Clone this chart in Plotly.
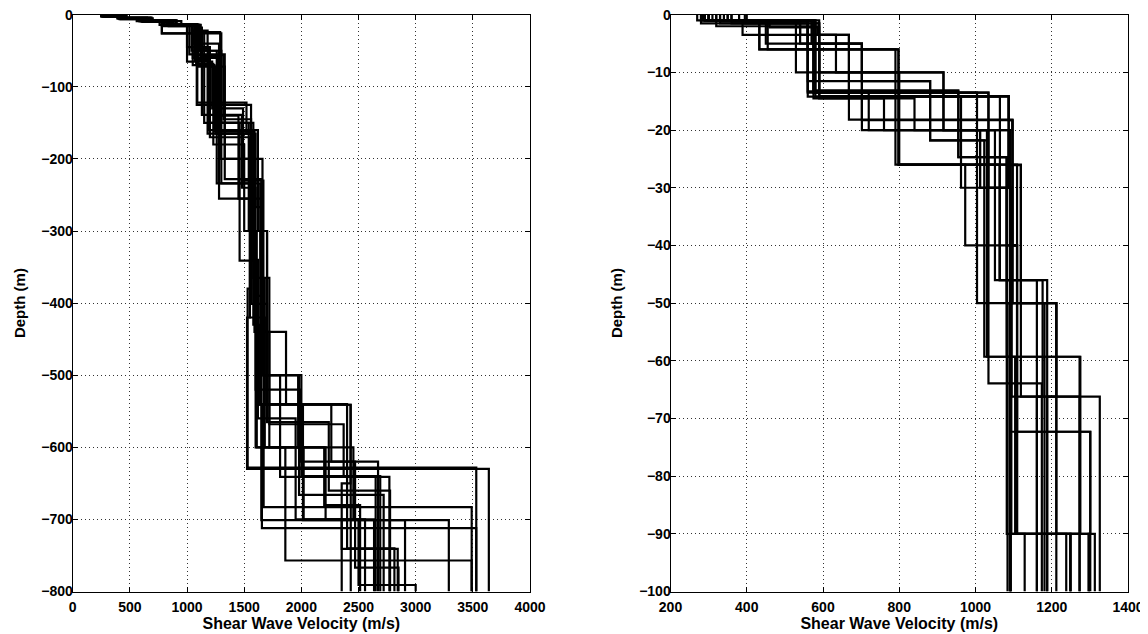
import plotly.graph_objects as go

# ---------------- data: left panel (full depth, 0-800 m) ----------------
# each profile: layer velocities (m/s) and layer bottom depths (m)
left_vs = [
    [260, 420, 600, 800, 1070, 1090, 1520, 1560, 1530, 3530],
    [280, 450, 650, 850, 1090, 1130, 1480, 1550, 1525, 3640],
    [250, 400, 580, 780, 1050, 1180, 1580, 1650, 1670, 3490],
    [270, 440, 640, 900, 1100, 1290, 1660, 1680, 1655, 3530],
    [300, 470, 700, 950, 1080, 1300, 1580, 1610, 1650, 3290],
    [260, 410, 610, 790, 1040, 1150, 1460, 1600, 1860, 3490],
    [290, 430, 640, 870, 1000, 1200, 1540, 1610, 2430, 2353, 2843],
    [270, 420, 620, 820, 1050, 1270, 1580, 1720, 2370, 2690],
    [250, 390, 560, 760, 1100, 1300, 1450, 1650, 1720, 2455, 2636],
    [300, 460, 680, 900, 1080, 1230, 1500, 1660, 1980, 2720],
    [260, 420, 620, 840, 1020, 1330, 1560, 1700, 2014, 2907],
    [280, 440, 660, 880, 1100, 1250, 1600, 1650, 1814, 2770],
    [270, 430, 630, 780, 1060, 1280, 1590, 1866, 2262, 2470, 2850],
    [250, 410, 600, 820, 1000, 1220, 1490, 1668, 1972, 2212, 2500, 3000],
    [290, 450, 660, 880, 1110, 1190, 1620, 1700, 2000, 2650],
    [260, 420, 610, 830, 1090, 1320, 1560, 1620, 1950, 2557],
    [280, 440, 650, 870, 1040, 1260, 1640, 2400, 2814],
    [300, 470, 690, 910, 1070, 1200, 1550, 1680, 2200, 2514],
    [270, 430, 640, 860, 1085, 1560, 1600, 1990, 2671],
    [260, 420, 620, 840, 1120, 1300, 1580, 1700, 2240, 2776],
    [290, 450, 660, 780, 1050, 1240, 1590, 1650, 2020, 2353],
    [250, 400, 590, 800, 1090, 1187, 1330, 1580, 1640, 2432],
]
left_depths = [
    [2, 5, 9, 14, 21, 122, 165, 380, 628, 800],
    [1.5, 4, 8, 13, 18, 139, 240, 420, 630, 800],
    [2, 5, 9, 15, 22, 165, 228, 500, 683, 800],
    [2, 5, 8, 14, 24, 200, 366, 540, 712, 800],
    [2, 5, 9, 15, 26, 234, 401, 600, 701, 800],
    [2, 6, 10, 16, 23, 150, 341, 600, 757, 800],
    [2, 5, 9, 14, 45, 150, 300, 541, 650, 741, 800],
    [2, 6, 10, 15, 60, 165, 365, 568, 640, 800],
    [2, 5, 9, 14, 50, 140, 255, 440, 600, 700, 800],
    [1.5, 4, 8, 14, 68, 180, 300, 500, 666, 800],
    [2, 5, 10, 16, 55, 200, 401, 540, 701, 800],
    [2, 5, 9, 15, 72, 165, 267, 500, 641, 800],
    [2, 5, 9, 26, 40, 255, 440, 540, 620, 767, 800],
    [2, 5, 9, 14, 65, 130, 230, 500, 600, 700, 791, 800],
    [2, 5, 9, 14, 47, 160, 300, 500, 640, 800],
    [2, 5, 9, 15, 56, 145, 340, 560, 700, 800],
    [2, 5, 9, 15, 50, 234, 540, 740, 800],
    [1.5, 4, 8, 14, 63, 170, 420, 600, 680, 800],
    [2, 5, 9, 15, 125, 240, 520, 620, 800],
    [2, 5, 9, 14, 58, 150, 300, 565, 660, 800],
    [2, 5, 9, 26, 70, 162, 390, 600, 700, 800],
    [2, 5, 9, 14, 47, 72, 228, 430, 541, 800],
]

# ---------------- data: right panel (top 100 m) ----------------
right_vs = [
    [290, 560, 1087, 1097, 1084],
    [320, 580, 1034, 1094, 1326],
    [350, 433, 790, 1119, 1212, 1188],
    [280, 540, 668, 1097, 1109, 1301],
    [300, 570, 702, 1091, 1082, 1313],
    [380, 590, 916, 1030, 1082, 1273],
    [290, 560, 881, 1023, 1275, 1249],
    [400, 575, 955, 1082, 1109, 1238],
    [340, 460, 590, 1087, 1092],
    [310, 389, 560, 1004, 1034, 1174],
    [285, 433, 798, 1063, 1176, 1161],
    [360, 529, 916, 1012, 1094, 1129],
    [300, 580, 962, 1004, 1212],
    [330, 560, 634, 800, 973, 1109, 1297],
    [270, 450, 702, 881, 1030, 1104, 1249],
    [395, 590, 1087, 1119, 1273],
    [300, 575, 1034, 1091, 1301, 1297],
    [350, 560, 798, 1109, 1092],
    [290, 540, 702, 1097, 1181],
    [320, 585, 668, 1064, 1161],
    [300, 560, 720, 1087, 1090],
    [330, 575, 760, 1012, 1094, 1092],
    [280, 455, 590, 840, 1051, 1188],
    [360, 590, 955, 1082, 1212, 1249],
]
right_depths = [
    [1, 14.2, 18.3, 50, 100],
    [1, 13.5, 30, 66.2, 100],
    [1, 6, 26, 50, 66.2, 100],
    [1.5, 3.5, 18.2, 40, 72.3, 100],
    [1, 5, 20, 30, 90, 100],
    [1, 10, 20, 24.7, 59.3, 100],
    [1, 11.5, 21.8, 59.3, 90, 100],
    [1, 13.1, 24.7, 40, 90, 100],
    [1, 2.2, 14.1, 30, 100],
    [1, 3.5, 13.5, 30, 63.9, 100],
    [1, 6, 26, 46, 66.2, 100],
    [1, 10, 20, 30, 90, 100],
    [1, 14.2, 30, 50, 100],
    [1.5, 3.5, 10, 26, 40, 90, 100],
    [1, 5, 11.5, 21.8, 59.3, 90, 100],
    [1.5, 14.1, 26.1, 66.2, 100],
    [1, 13.5, 30, 72.3, 90, 100],
    [1, 6, 26, 40, 100],
    [1, 5, 18.3, 50, 100],
    [2, 3.5, 14.2, 46, 100],
    [1, 13.3, 20, 26.1, 100],
    [1, 14.5, 20, 30, 66.2, 100],
    [1, 6, 14.5, 20, 46, 100],
    [1.5, 13.3, 24.7, 50, 90, 100],
]

left_xticks = [0, 500, 1000, 1500, 2000, 2500, 3000, 3500, 4000]
left_yticks = [-800, -700, -600, -500, -400, -300, -200, -100, 0]
right_xticks = [200, 400, 600, 800, 1000, 1200, 1400]
right_yticks = [-100, -90, -80, -70, -60, -50, -40, -30, -20, -10, 0]

x_title = "Shear Wave Velocity (m/s)"
y_title = "Depth (m)"

fig = go.Figure()


def add_profiles(vs_list, depth_list, xa, ya):
    for vs, ds in zip(vs_list, depth_list):
        x = list(vs) + [vs[-1]]
        y = [0] + [-d for d in ds]
        fig.add_trace(go.Scatter(
            x=x, y=y, mode="lines", line=dict(color="black", width=2.2, shape="vh"),
            xaxis=xa, yaxis=ya, showlegend=False, hoverinfo="skip"))


add_profiles(left_vs, left_depths, "x", "y")
add_profiles(right_vs, right_depths, "x2", "y2")

font_family = "Liberation Sans, Arial, Helvetica, sans-serif"
tickfont = dict(family=font_family, size=14, color="black", weight="bold")
xtitlefont = dict(family=font_family, size=16, color="black", weight="bold")
ytitlefont = dict(family=font_family, size=15, color="black", weight="bold")

axis_common = dict(
    showgrid=True, gridcolor="#333", griddash="1px,3px", gridwidth=1,
    showline=True, linecolor="black", linewidth=1, mirror="ticks",
    ticks="inside", ticklen=5, tickcolor="black",
    zeroline=False, automargin=False, tickfont=tickfont,
    ticklabeloverflow="allow",
)

# page body has an 8px margin: positions are shifted to compensate
W, H, OFF = 1148, 634, 8
ydom = [1 - (591.5 - OFF) / H, 1 - (14.7 - OFF) / H]
xdom1 = [(72.7 - OFF) / W, (530 - OFF) / W]
xdom2 = [(670.5 - OFF) / W, (1128 - OFF) / W]

fig.update_layout(
    width=W, height=H,
    margin=dict(l=0, r=0, t=0, b=0),
    paper_bgcolor="white", plot_bgcolor="white",
    xaxis=dict(domain=xdom1, range=[0, 4000], tickvals=left_xticks, ticklabelstandoff=3,
               title=dict(text=x_title, font=xtitlefont, standoff=0), anchor="y", **axis_common),
    yaxis=dict(domain=ydom, range=[-800, 0], tickvals=left_yticks, ticklabelstandoff=-4,
               title=dict(text=y_title, font=ytitlefont, standoff=12), anchor="x", **axis_common),
    xaxis2=dict(domain=xdom2, range=[200, 1400], tickvals=right_xticks, ticklabelstandoff=3,
                title=dict(text=x_title, font=xtitlefont, standoff=0), anchor="y2", **axis_common),
    yaxis2=dict(domain=ydom, range=[-100, 0], tickvals=right_yticks, ticklabelstandoff=-4,
                title=dict(text=y_title, font=ytitlefont, standoff=12), anchor="x2", **axis_common),
)

fig.write_html("out.html")
